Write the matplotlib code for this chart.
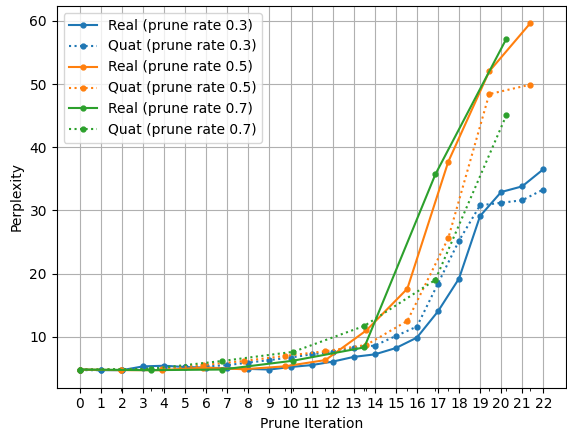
import numpy as np
import matplotlib
matplotlib.use('Agg')
import matplotlib.pyplot as plt

# x positions: prune iterations expressed in units of the 0.3-rate schedule
step_03 = 1.0
step_05 = np.log(0.5) / np.log(0.7)
step_07 = np.log(0.3) / np.log(0.7)

real_03 = [4.8, 4.7, 4.7, 5.3, 5.4, 5.2, 5.1, 5.0, 4.9, 4.8, 5.2, 5.5,
           6.05, 6.8, 7.2, 8.2, 9.85, 14.0, 19.2, 29.1, 32.9, 33.8, 36.5]
quat_03 = [4.7, 4.7, 4.8, 5.0, 5.1, 5.2, 5.3, 5.5, 5.9, 6.3, 6.7, 7.2,
           7.6, 8.2, 8.6, 10.1, 11.6, 18.4, 25.2, 30.8, 31.2, 31.6, 33.3]
real_05 = [4.8, 4.7, 4.7, 5.1, 4.85, 5.3, 6.3, 11.0, 17.6, 37.7, 52.0, 59.6]
quat_05 = [4.8, 4.8, 4.9, 5.5, 6.15, 6.95, 7.7, 8.7, 12.5, 25.6, 48.4, 49.9]
real_07 = [4.8, 4.7, 4.8, 6.2, 8.3, 35.7, 57.2]
quat_07 = [4.8, 4.9, 6.15, 7.6, 11.7, 19.0, 45.1]

x_03 = np.arange(len(real_03)) * step_03
x_05 = np.arange(len(real_05)) * step_05
x_07 = np.arange(len(real_07)) * step_07

fig = plt.figure(figsize=(5.67, 4.32), dpi=100)
ax = fig.add_subplot(111)
fig.subplots_adjust(left=0.100, right=0.999, top=0.986, bottom=0.103)

ax.plot(x_03, real_03, '-o', color='C0', markersize=3.5, label='Real (prune rate 0.3)')
ax.plot(x_03, quat_03, ':o', color='C0', markersize=3.5, label='Quat (prune rate 0.3)')
ax.plot(x_05, real_05, '-o', color='C1', markersize=3.5, label='Real (prune rate 0.5)')
ax.plot(x_05, quat_05, ':o', color='C1', markersize=3.5, label='Quat (prune rate 0.5)')
ax.plot(x_07, real_07, '-o', color='C2', markersize=3.5, label='Real (prune rate 0.7)')
ax.plot(x_07, quat_07, ':o', color='C2', markersize=3.5, label='Quat (prune rate 0.7)')

ax.set_xticks(x_03)
ax.set_xticklabels([str(i) for i in range(len(x_03))])
minor = np.concatenate([x_05[1:], x_07[1:]])
ax.set_xticks(minor, minor=True)
ax.grid(True)
ax.set_xlabel('Prune Iteration')
ax.set_ylabel('Perplexity')
ax.legend(loc='upper left')

plt.savefig('out.png', dpi=100)
